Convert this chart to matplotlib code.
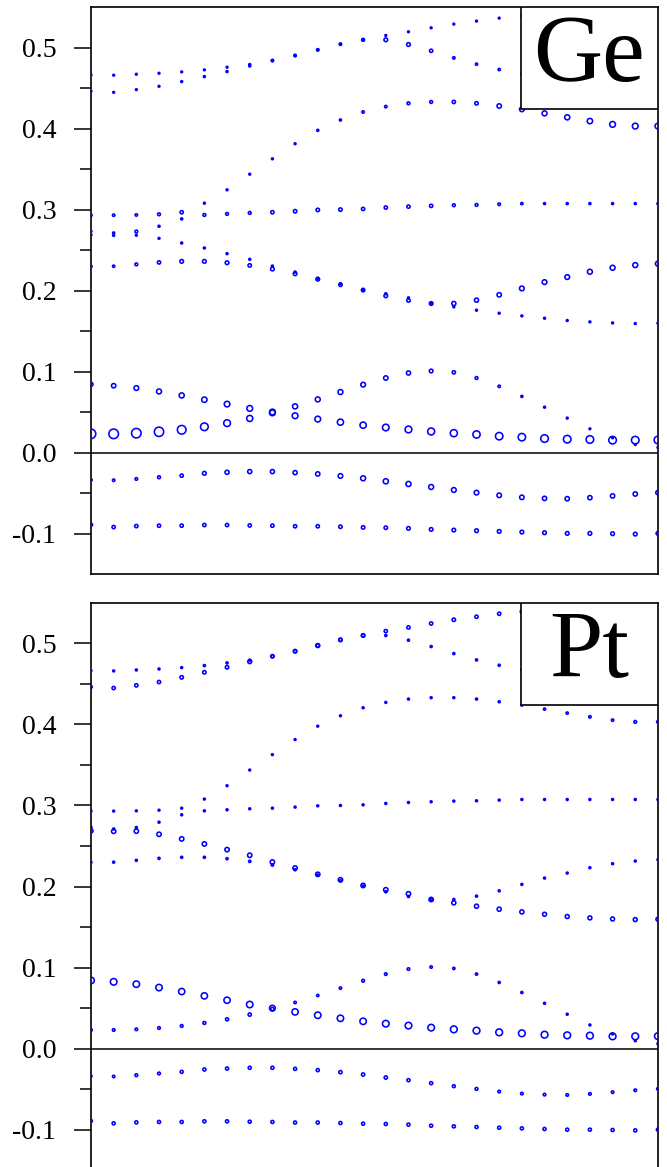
"""Fat-band plot: Ge and Pt projected weights along the k-path"""
import matplotlib
matplotlib.use('Agg')
import matplotlib.pyplot as plt
from matplotlib.patches import Rectangle

plt.rcParams['font.family'] = ['Liberation Serif', 'DejaVu Serif']
plt.rcParams['axes.unicode_minus'] = False

# k-point index along the path
k = list(range(26))

# band energies (one list per band, 26 k-points each)
band_l1 = [-0.089, -0.092, -0.0908, -0.0903, -0.0903, -0.0895, -0.0895, -0.090, -0.0903, -0.091,
           -0.091, -0.0916, -0.0924, -0.0928, -0.0936, -0.0949, -0.0957, -0.0965, -0.0974, -0.0982,
           -0.099, -0.0998, -0.0998, -0.1002, -0.1007, -0.0998]
band_l2 = [-0.0338, -0.0342, -0.0326, -0.0305, -0.0285, -0.0256, -0.0244, -0.0235, -0.0235, -0.0248,
           -0.0264, -0.0289, -0.0318, -0.0355, -0.0388, -0.0425, -0.0462, -0.0495, -0.0528, -0.0553,
           -0.0566, -0.057, -0.0557, -0.0536, -0.0512, -0.0495]
band_a = [0.0231, 0.0231, 0.0239, 0.0256, 0.0281, 0.0318, 0.0363, 0.0421, 0.0490, 0.057,
          0.0656, 0.0747, 0.0838, 0.0920, 0.0982, 0.1007, 0.099, 0.092, 0.0817, 0.0693,
          0.056, 0.0425, 0.0293, 0.0182, 0.0099, 0.0062]
band_b = [0.0842, 0.0825, 0.0796, 0.0754, 0.0705, 0.0652, 0.0598, 0.0545, 0.0500, 0.0454,
          0.0413, 0.0375, 0.0338, 0.0309, 0.0285, 0.026, 0.0239, 0.0223, 0.0202, 0.019,
          0.0173, 0.0165, 0.0161, 0.0153, 0.0153, 0.0155]
band_s = [0.2298, 0.2300, 0.2323, 0.2347, 0.2360, 0.2360, 0.2343, 0.2310, 0.2265, 0.2207,
          0.2140, 0.2071, 0.2005, 0.1935, 0.1877, 0.1840, 0.1840, 0.1881, 0.1947, 0.2026,
          0.2104, 0.2166, 0.2232, 0.2281, 0.2314, 0.2331]
band_r = [0.2686, 0.2680, 0.2682, 0.2644, 0.2587, 0.2525, 0.2455, 0.2385, 0.2302, 0.2228,
          0.2150, 0.2083, 0.2013, 0.1960, 0.1910, 0.1840, 0.1799, 0.1757, 0.1720, 0.1687,
          0.1658, 0.1630, 0.1613, 0.1600, 0.1592, 0.1597]
band_q1 = [0.2730, 0.2710, 0.2728, 0.2793, 0.2884, 0.2933, 0.2946, 0.2958, 0.2966, 0.2979,
           0.2995, 0.2999, 0.3007, 0.3024, 0.3036, 0.3045, 0.3053, 0.3057, 0.3065, 0.3073,
           0.3073, 0.3073, 0.3073, 0.3073, 0.3073, 0.3073]
band_q2 = [0.2929, 0.2930, 0.2933, 0.2941, 0.2966, 0.3078, 0.3243, 0.3436, 0.3626, 0.3812,
           0.3977, 0.4105, 0.4204, 0.4270, 0.4311, 0.4328, 0.4328, 0.4311, 0.4278, 0.4237,
           0.4187, 0.4138, 0.4092, 0.4051, 0.4030, 0.4030]
band_t1 = [0.4460, 0.4447, 0.4480, 0.4521, 0.4579, 0.4641, 0.4703, 0.4773, 0.4839, 0.4901,
           0.4971, 0.5041, 0.5095, 0.5095, 0.5037, 0.4959, 0.4872, 0.4794, 0.4728, 0.4674,
           0.463, 0.460, 0.458, 0.457, 0.457, 0.458]
band_t2 = [0.4662, 0.4658, 0.4670, 0.4682, 0.4699, 0.4724, 0.4757, 0.4790, 0.4839, 0.4901,
           0.4971, 0.5041, 0.5095, 0.5149, 0.5194, 0.5243, 0.5289, 0.5326, 0.5363, 0.539,
           0.542, 0.544, 0.546, 0.547, 0.548, 0.5487]

# Ge projected weights (0..1)
ge_l1 = [0.18, 0.2, 0.2, 0.2, 0.2, 0.2, 0.2, 0.2, 0.2, 0.2, 0.2, 0.22, 0.22, 0.22, 0.24,
         0.24, 0.24, 0.25, 0.25, 0.25, 0.25, 0.25, 0.25, 0.25, 0.25, 0.25]
ge_l2 = [0.1, 0.1, 0.12, 0.16, 0.2, 0.26, 0.3, 0.3, 0.3, 0.3, 0.32, 0.36, 0.4, 0.42, 0.42,
         0.4, 0.38, 0.36, 0.35, 0.34, 0.32, 0.32, 0.32, 0.32, 0.32, 0.32]
ge_a = [0.96, 0.96, 0.95, 0.93, 0.85, 0.73, 0.62, 0.54, 0.5, 0.42, 0.4, 0.4, 0.37, 0.33, 0.3,
        0.25, 0.2, 0.15, 0.1, 0.06, 0.04, 0.03, 0.02, 0.02, 0.02, 0.02]
ge_b = [0.3, 0.33, 0.37, 0.4, 0.42, 0.45, 0.48, 0.5, 0.5, 0.5, 0.5, 0.55, 0.56, 0.6, 0.62,
        0.65, 0.66, 0.68, 0.7, 0.7, 0.72, 0.72, 0.72, 0.72, 0.72, 0.72]
ge_s = [0.08, 0.08, 0.15, 0.2, 0.25, 0.25, 0.25, 0.22, 0.25, 0.25, 0.25, 0.22, 0.22, 0.25, 0.22,
        0.25, 0.3, 0.3, 0.33, 0.37, 0.37, 0.37, 0.4, 0.4, 0.4, 0.4]
ge_r = [0.03, 0.03, 0.02, 0.03, 0.04, 0.04, 0.04, 0.04, 0.04, 0.04, 0.04, 0.04, 0.04, 0.04, 0.03,
        0.03, 0.03, 0.03, 0.03, 0.03, 0.03, 0.03, 0.03, 0.03, 0.03, 0.03]
ge_q1 = [0.03, 0.06, 0.15, 0.05, 0.05, 0.15, 0.15, 0.15, 0.2, 0.22, 0.22, 0.22, 0.2, 0.2, 0.2,
         0.2, 0.15, 0.15, 0.12, 0.08, 0.05, 0.05, 0.05, 0.05, 0.05, 0.05]
ge_q2 = [0.08, 0.1, 0.1, 0.15, 0.2, 0.03, 0.03, 0.03, 0.03, 0.03, 0.06, 0.06, 0.1, 0.1, 0.15,
         0.15, 0.2, 0.22, 0.33, 0.37, 0.4, 0.42, 0.45, 0.5, 0.5, 0.5]
ge_t1 = [0.02, 0.02, 0.02, 0.02, 0.04, 0.04, 0.04, 0.06, 0.1, 0.1, 0.1, 0.1, 0.15, 0.25, 0.25,
         0.2, 0.1, 0.08, 0.08, 0.06, 0.05, 0.05, 0.05, 0.05, 0.05, 0.05]
ge_t2 = [0.02, 0.02, 0.02, 0.02, 0.02, 0.02, 0.02, 0.03, 0.03, 0.03, 0.03, 0.03, 0.03, 0.02, 0.02,
         0.02, 0.02, 0.02, 0.02, 0.02, 0.02, 0.02, 0.02, 0.02, 0.02, 0.02]

# Pt projected weights (0..1)
pt_l1 = [0.15, 0.18, 0.18, 0.18, 0.18, 0.18, 0.18, 0.18, 0.18, 0.18, 0.18, 0.18, 0.18, 0.18, 0.18,
         0.18, 0.18, 0.18, 0.18, 0.18, 0.18, 0.18, 0.18, 0.18, 0.18, 0.18]
pt_l2 = [0.06, 0.1, 0.14, 0.14, 0.17, 0.18, 0.18, 0.18, 0.18, 0.18, 0.18, 0.2, 0.2, 0.2, 0.18,
         0.18, 0.16, 0.15, 0.12, 0.12, 0.12, 0.12, 0.12, 0.12, 0.12, 0.12]
pt_a = [0.12, 0.12, 0.12, 0.13, 0.14, 0.16, 0.18, 0.2, 0.2, 0.1, 0.08, 0.1, 0.14, 0.12, 0.12,
        0.1, 0.08, 0.08, 0.06, 0.06, 0.05, 0.04, 0.04, 0.04, 0.04, 0.04]
pt_b = [0.6, 0.6, 0.58, 0.58, 0.56, 0.56, 0.56, 0.58, 0.5, 0.56, 0.58, 0.58, 0.58, 0.6, 0.6,
        0.6, 0.62, 0.62, 0.62, 0.62, 0.62, 0.62, 0.62, 0.62, 0.62, 0.62]
pt_s = [0.04, 0.05, 0.05, 0.06, 0.06, 0.06, 0.06, 0.08, 0.08, 0.06, 0.06, 0.06, 0.06, 0.06, 0.06,
        0.06, 0.05, 0.05, 0.05, 0.04, 0.04, 0.04, 0.04, 0.04, 0.04, 0.04]
pt_r = [0.3, 0.32, 0.32, 0.33, 0.33, 0.33, 0.33, 0.33, 0.33, 0.33, 0.33, 0.33, 0.33, 0.33, 0.33,
        0.33, 0.3, 0.3, 0.3, 0.3, 0.28, 0.28, 0.28, 0.28, 0.28, 0.28]
pt_q1 = [0.05, 0.04, 0.04, 0.04, 0.04, 0.04, 0.04, 0.04, 0.04, 0.04, 0.04, 0.04, 0.04, 0.04, 0.04,
         0.04, 0.04, 0.04, 0.04, 0.04, 0.04, 0.04, 0.04, 0.04, 0.04, 0.04]
pt_q2 = [0.03, 0.03, 0.03, 0.03, 0.03, 0.03, 0.03, 0.03, 0.03, 0.03, 0.03, 0.03, 0.04, 0.04, 0.04,
         0.04, 0.04, 0.05, 0.05, 0.06, 0.07, 0.08, 0.1, 0.1, 0.14, 0.12]
pt_t1 = [0.12, 0.2, 0.2, 0.2, 0.22, 0.22, 0.22, 0.28, 0.22, 0.22, 0.28, 0.22, 0.22, 0.06, 0.06,
         0.06, 0.06, 0.06, 0.06, 0.05, 0.05, 0.05, 0.05, 0.05, 0.05, 0.05]
pt_t2 = [0.02, 0.04, 0.04, 0.04, 0.04, 0.06, 0.06, 0.06, 0.15, 0.2, 0.2, 0.2, 0.2, 0.2, 0.2,
         0.2, 0.22, 0.2, 0.2, 0.2, 0.2, 0.2, 0.2, 0.2, 0.2, 0.04]

bands = [band_l1, band_l2, band_a, band_b, band_s, band_r, band_q1, band_q2, band_t1, band_t2]
ge_weights = [ge_l1, ge_l2, ge_a, ge_b, ge_s, ge_r, ge_q1, ge_q2, ge_t1, ge_t2]
pt_weights = [pt_l1, pt_l2, pt_a, pt_b, pt_s, pt_r, pt_q1, pt_q2, pt_t1, pt_t2]

yticks = [-0.1, 0.0, 0.1, 0.2, 0.3, 0.4, 0.5]
yminor = [-0.05, 0.05, 0.15, 0.25, 0.35, 0.45]


def marker_area(w):
    # circle diameter in px grows with weight, converted to points^2 at dpi 100
    d = (1.6 + 8.3 * w) * 0.72
    return d * d


def draw_panel(ax, weights, label):
    for energies, w in zip(bands, weights):
        ax.scatter(k, energies, s=[marker_area(v) for v in w], facecolors='none',
                   edgecolors='#0000ff', linewidths=1.15, zorder=3)
    ax.axhline(0.0, color='black', lw=1.1, zorder=2)
    ax.set_xlim(0, 25)
    ax.set_ylim(-0.15, 0.55)
    ax.set_xticks([])
    ax.set_yticks(yticks)
    ax.set_yticklabels([f'{t:.1f}' for t in yticks])
    ax.set_yticks(yminor, minor=True)
    ax.tick_params(axis='y', which='major', direction='out', length=12, width=1.1,
                   labelsize=20, pad=13)
    ax.tick_params(axis='y', which='minor', direction='out', length=8, width=1.1)
    for sp in ax.spines.values():
        sp.set_linewidth(1.2)
    ax.add_patch(Rectangle((0.758, 0.82), 0.242, 0.18, transform=ax.transAxes,
                           facecolor='white', edgecolor='black', lw=1.2, zorder=5))
    ax.text(0.879, 0.91, label, transform=ax.transAxes, ha='center', va='center',
            fontsize=69, zorder=6)


if __name__ == '__main__':
    fig = plt.figure(figsize=(6.67, 11.67), dpi=100)
    ax_top = fig.add_axes([0.1364, 0.5081, 0.850, 0.4859])
    ax_bot = fig.add_axes([0.1364, -0.0029, 0.850, 0.4865])
    draw_panel(ax_top, ge_weights, 'Ge')
    draw_panel(ax_bot, pt_weights, 'Pt')
    fig.savefig('out.png', dpi=100)
